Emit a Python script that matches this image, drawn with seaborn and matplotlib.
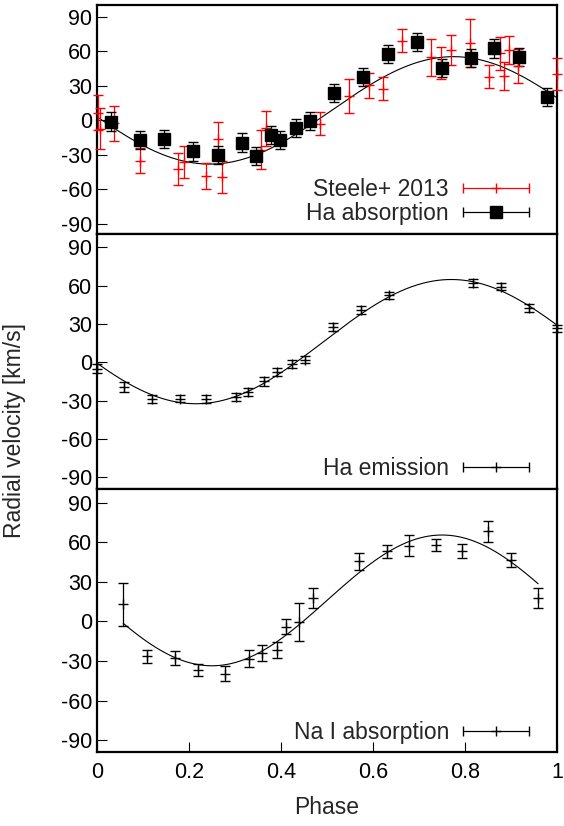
import numpy as np
import seaborn as sns
import matplotlib
matplotlib.use('Agg')
import matplotlib.pyplot as plt
from matplotlib.container import ErrorbarContainer
from matplotlib.legend_handler import HandlerErrorbar

# Steele+ 2013 (red crosses)
steele_phase = [0.003, 0.006, 0.038, 0.093, 0.177, 0.189, 0.238, 0.262, 0.271,
                0.357, 0.367, 0.485, 0.548, 0.592, 0.622, 0.662, 0.726, 0.747,
                0.769, 0.811, 0.853, 0.875, 0.885, 0.896, 0.916, 1.000]
steele_rv = [6.7, -7.3, -2.6, -35, -42, -36, -48.5, -16.5, -49.5,
             -25.5, -7, -3, 21, 30.4, 27.4, 69.4, 55, 50,
             61.5, 67.5, 38, 58.5, 38.5, 61.5, 47.5, 40.5]
steele_err = [15, 18, 15, 11, 14, 14, 11, 15, 14,
              17, 15, 10, 15, 11, 10, 10, 16, 14,
              13, 21, 10, 14.5, 12, 12, 15, 14]

# Ha absorption (black squares)
abs_phase = [0.030, 0.093, 0.146, 0.209, 0.262, 0.316, 0.346, 0.378, 0.398, 0.432,
             0.464, 0.516, 0.579, 0.632, 0.695, 0.749, 0.812, 0.864, 0.917, 0.979]
abs_rv = [-1, -17, -16.4, -27, -30.3, -19.3, -31, -12.6, -17.3, -6.8,
          -0.5, 23.6, 37.5, 57.8, 68, 45.4, 54.6, 62.7, 55, 20.1]
abs_err = [8, 8, 8, 8, 8, 8, 8, 8, 8, 8, 8, 8, 8, 8, 8, 8, 8, 8, 8, 8]

# Ha emission
emi_phase = [0.0, 0.059, 0.119, 0.180, 0.238, 0.302, 0.329, 0.362, 0.392, 0.423,
             0.452, 0.514, 0.574, 0.635, 0.818, 0.878, 0.939, 1.0]
emi_rv = [-5, -19.3, -28.5, -28.2, -28.5, -27, -23.2, -14.6, -7.6, -1,
          2.3, 27.7, 41, 52.5, 62.4, 59.3, 42.8, 26.6]
emi_err = [3.5, 3.7, 3, 3, 3, 3, 3, 3.5, 3, 3, 3, 3, 3, 3, 3, 3, 3, 3]

# Na I absorption
na_phase = [0.057, 0.109, 0.170, 0.219, 0.278, 0.330, 0.359, 0.391, 0.410, 0.440,
            0.470, 0.570, 0.630, 0.679, 0.738, 0.793, 0.851, 0.900, 0.959]
na_rv = [13, -26.5, -27.7, -36.5, -39.5, -28.2, -24, -21.5, -3.9, -0.6,
         17.9, 45.6, 53.1, 57.6, 58.1, 53.8, 68.4, 46.3, 17.9]
na_err = [16.3, 5, 5.6, 4.5, 5.6, 6.6, 5.9, 6, 5.5, 14.4,
          7.5, 6.5, 4.8, 7.8, 4.6, 5.3, 7.9, 5.3, 7.3]

# sinusoid fits: gamma, K, phase of minimum, period, phase range
abs_fit = [8.7, 46.8, 0.245, 1.06, 0.0, 1.0]
emi_fit = [16.3, 48.6, 0.215, 1.11, 0.0, 1.0]
na_fit = [16.0, 49.6, 0.25, 1.0, 0.057, 0.959]

yticks = [-90, -60, -30, 0, 30, 60, 90]
xticks = [0, 0.2, 0.4, 0.6, 0.8, 1]
xticklabels = ['0', '0.2', '0.4', '0.6', '0.8', '1']

sns.set_style('white')
plt.rcParams['font.family'] = ['Liberation Sans', 'DejaVu Sans']
plt.rcParams['axes.unicode_minus'] = False
FS = 16.5
TICKFS = 15.5


def fit_curve(ax, p):
    gamma, k, ph0, per, a, b = p
    ph = np.linspace(a, b, 400)
    rv = gamma - k * np.cos(2 * np.pi * (ph - ph0) / per)
    sns.lineplot(x=ph, y=rv, ax=ax, color='black', lw=0.8, sort=False, estimator=None, zorder=1)


def points(ax, ph, rv, err, color='black', marker='+', ms=7.5):
    c = ax.errorbar(ph, rv, yerr=err, fmt=marker, color=color, ms=ms, mew=1,
                    elinewidth=0.9, capsize=3.8, capthick=0.9, zorder=3)
    for a in c.get_children():
        a.set_clip_on(False)


def proxy(ax, label, color='black', marker='+', ms=7.5):
    return ax.errorbar([np.nan], [np.nan], xerr=[1], fmt=marker, color=color, ms=ms, mew=1,
                       elinewidth=0.9, capsize=3.8, capthick=0.9, label=label)


def add_legend(ax, handles, ypos):
    ax.legend(handles=handles, loc='lower right', bbox_to_anchor=(0.942, ypos),
              frameon=False, markerfirst=False, fontsize=FS, handlelength=3.0,
              handletextpad=0.55, labelspacing=0.05, borderaxespad=0, borderpad=0,
              handler_map={ErrorbarContainer: HandlerErrorbar(xerr_size=1.44, numpoints=1)})


fig = plt.figure(figsize=(5.64, 8.26), dpi=100)
left, width = 97 / 564, 460 / 564
ax1 = fig.add_axes([left, 1 - 234 / 826, width, 229 / 826])
ax2 = fig.add_axes([left, 1 - 489 / 826, width, 255 / 826])
ax3 = fig.add_axes([left, 1 - 752 / 826, width, 263 / 826])

fit_curve(ax1, abs_fit)
points(ax1, steele_phase, steele_rv, steele_err, color='red')
points(ax1, abs_phase, abs_rv, abs_err, marker='s', ms=8)
h1 = proxy(ax1, 'Steele+ 2013', color='red')
h2 = proxy(ax1, 'Ha absorption', marker='s', ms=8)
add_legend(ax1, [h1, h2], 0.04)

fit_curve(ax2, emi_fit)
points(ax2, emi_phase, emi_rv, emi_err)
add_legend(ax2, [proxy(ax2, 'Ha emission')], 0.035)

fit_curve(ax3, na_fit)
points(ax3, na_phase, na_rv, na_err)
add_legend(ax3, [proxy(ax3, 'Na I absorption')], 0.03)

for ax in (ax1, ax2, ax3):
    ax.set_xlim(0, 1)
    ax.set_ylim(-99, 100.5)
    ax.set_yticks(yticks)
    ax.set_yticklabels([str(v) for v in yticks])
    ax.set_xlabel('')
    ax.set_ylabel('')
    for s in ax.spines.values():
        s.set_linewidth(1.6)
        s.set_color('black')
    ax.tick_params(axis='y', direction='in', length=7.5, width=0.8, left=True, right=False,
                   labelsize=TICKFS, pad=3.5, colors='black')
    ax.tick_params(axis='x', direction='in', length=7.5, width=0.8, bottom=True, top=False,
                   labelsize=TICKFS, pad=7, colors='black')

for ax in (ax1, ax2):
    ax.set_xticks([])
ax3.set_xticks(xticks)
ax3.set_xticklabels(xticklabels)

fig.text(15 / 564, 1 - 430 / 826, 'Radial velocity [km/s]', rotation=90, fontsize=FS,
         ha='center', va='center')
fig.text(327 / 564, 1 - 808 / 826, 'Phase', fontsize=FS, ha='center', va='center')

fig.savefig('out.png', dpi=100)
